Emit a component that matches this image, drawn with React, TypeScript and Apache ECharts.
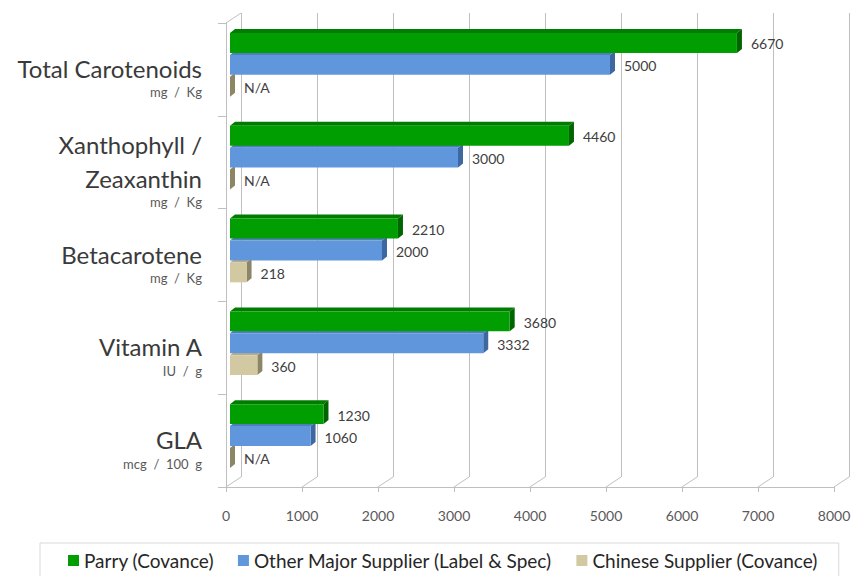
import React, { useEffect, useRef } from "react";
import * as echarts from "echarts";

const categories = ["Total Carotenoids", "Xanthophyll /\nZeaxanthin", "Betacarotene", "Vitamin A", "GLA"];
const units = ["mg  /  Kg", "mg  /  Kg", "mg  /  Kg", "IU  /  g", "mcg  /  100  g"];
const seriesNames = ["Parry (Covance)", "Other Major Supplier (Label & Spec)", "Chinese Supplier (Covance)"];
const parryValues = [6670, 4460, 2210, 3680, 1230];
const otherValues = [5000, 3000, 2000, 3332, 1060];
const chineseValues = [0, 0, 218, 360, 0];
const parryLabels = ["6670", "4460", "2210", "3680", "1230"];
const otherLabels = ["5000", "3000", "2000", "3332", "1060"];
const chineseLabels = ["N/A", "N/A", "218", "360", "N/A"];
const xTicks = [0, 1000, 2000, 3000, 4000, 5000, 6000, 7000, 8000];

const FONT = "Lato, 'Open Sans', sans-serif";
const GRID_LINE = "#BFBFBF";
const DX = 15;
const DY = 10;

type Palette = { front: string; top: string; side: string };
const palettes: Palette[] = [
  { front: "#009E00", top: "#007C00", side: "#006400" },
  { front: "#6097DC", top: "#4D7FC0", side: "#3D68A2" },
  { front: "#D2C9A3", top: "#B8AF8A", side: "#8C8566" },
];

function barSeries(name: string, values: number[], labels: string[], slot: number, pal: Palette) {
  return {
    type: "custom",
    name,
    xAxisIndex: 0,
    yAxisIndex: 0,
    z: 10 - slot,
    itemStyle: { color: pal.front },
    encode: { x: 0, y: 1 },
    data: values.map((v, i) => [v, i]),
    renderItem: (params: any, api: any) => {
      const v = api.value(0);
      const cat = api.value(1);
      const start = api.coord([0, cat]);
      const end = api.coord([v, cat]);
      const band = api.size([0, 1])[1];
      const step = band * 0.236;
      const h = step - 2;
      const dx = 5;
      const dy = 4;
      const x0 = start[0] + 4;
      const x1 = end[0] + 4;
      const top = start[1] - band / 2 + band * 0.108 + slot * step;
      const label = labels[params.dataIndex];
      return {
        type: "group",
        children: [
          {
            type: "polygon",
            shape: { points: [[x0, top], [x0 + dx, top - dy], [x1 + dx, top - dy], [x1, top]] },
            style: { fill: pal.top },
          },
          {
            type: "polygon",
            shape: { points: [[x1, top], [x1 + dx, top - dy], [x1 + dx, top + h - dy], [x1, top + h]] },
            style: { fill: pal.side },
          },
          {
            type: "rect",
            shape: { x: x0, y: top, width: Math.max(0, x1 - x0), height: h },
            style: { fill: pal.front },
          },
          {
            type: "text",
            x: x1 + dx + 9,
            y: top + h / 2 + 1,
            style: {
              text: label,
              fill: "#404040",
              font: `14px ${FONT}`,
              textAlign: "left",
              textVerticalAlign: "middle",
            },
          },
        ],
      };
    },
  };
}

export default function App() {
  const ref = useRef<HTMLDivElement>(null);
  useEffect(() => {
    document.body.style.margin = "0";
    const chart = echarts.init(ref.current!, undefined, { renderer: "svg" });
    const option: any = {
      animation: false,
      backgroundColor: "#FFFFFF",
      grid: [
        { left: 226, top: 23, width: 608, height: 464 },
        { left: 226 + DX, top: 23 - DY, width: 608, height: 464 },
      ],
      xAxis: [
        {
          gridIndex: 0,
          type: "value",
          min: 0,
          max: 8000,
          interval: 1000,
          axisLine: { show: true, lineStyle: { color: GRID_LINE } },
          axisTick: { show: true, length: 5, lineStyle: { color: GRID_LINE } },
          axisLabel: {
            margin: 21,
            fontSize: 14,
            fontFamily: FONT,
            color: "#595959",
            formatter: (v: number) => String(v),
          },
          splitLine: { show: false },
        },
        {
          gridIndex: 1,
          type: "value",
          min: 0,
          max: 8000,
          interval: 1000,
          axisLine: { show: false },
          axisTick: { show: false },
          axisLabel: { show: false },
          splitLine: { show: true, lineStyle: { color: GRID_LINE, width: 1 } },
        },
      ],
      yAxis: [
        {
          gridIndex: 0,
          type: "category",
          inverse: true,
          data: categories,
          axisLine: { show: true, lineStyle: { color: GRID_LINE } },
          axisTick: { show: true, length: 8, lineStyle: { color: GRID_LINE } },
          axisLabel: {
            margin: 24,
            padding: [12, 0, 0, 0],
            formatter: (value: string, index: number) =>
              value
                .split("\n")
                .map((l) => `{m|${l}}`)
                .join("\n") + `\n{u|${units[index]}}`,
            rich: {
              m: { fontSize: 24, lineHeight: 34, fontFamily: FONT, color: "#3A3A3A", align: "right" },
              u: { fontSize: 13, lineHeight: 14, fontFamily: FONT, color: "#595959", align: "right" },
            },
          },
          splitLine: { show: false },
        },
        {
          gridIndex: 1,
          type: "category",
          inverse: true,
          data: categories,
          show: false,
        },
      ],
      legend: {
        data: seriesNames,
        top: 543,
        left: 40,
        padding: [8, 21, 8, 28],
        itemWidth: 11,
        itemHeight: 11,
        itemGap: 24,
        icon: "rect",
        borderColor: "#D9D9D9",
        borderWidth: 1,
        textStyle: { fontFamily: FONT, fontSize: 19, color: "#262626" },
      },
      series: [
        {
          type: "custom",
          name: "floor",
          xAxisIndex: 0,
          yAxisIndex: 0,
          silent: true,
          z: 1,
          encode: { x: 0, y: 1 },
          data: xTicks.map((t) => [t, 0]),
          renderItem: (params: any, api: any) => {
            const cs = params.coordSys;
            const x = api.coord([api.value(0), 0])[0];
            const yb = cs.y + cs.height;
            const children: any[] = [
              { type: "line", shape: { x1: x, y1: yb, x2: x + DX, y2: yb - DY }, style: { stroke: GRID_LINE, lineWidth: 1 } },
            ];
            if (params.dataIndex === 0) {
              children.push({
                type: "line",
                shape: { x1: cs.x, y1: cs.y, x2: cs.x + DX, y2: cs.y - DY },
                style: { stroke: GRID_LINE, lineWidth: 1 },
              });
            }
            return { type: "group", children };
          },
        },
        barSeries(seriesNames[0], parryValues, parryLabels, 0, palettes[0]),
        barSeries(seriesNames[1], otherValues, otherLabels, 1, palettes[1]),
        barSeries(seriesNames[2], chineseValues, chineseLabels, 2, palettes[2]),
      ],
    };
    chart.setOption(option);
    return () => chart.dispose();
  }, []);
  return <div ref={ref} style={{ position: "fixed", left: 0, top: 0, width: 855, height: 576 }} />;
}
